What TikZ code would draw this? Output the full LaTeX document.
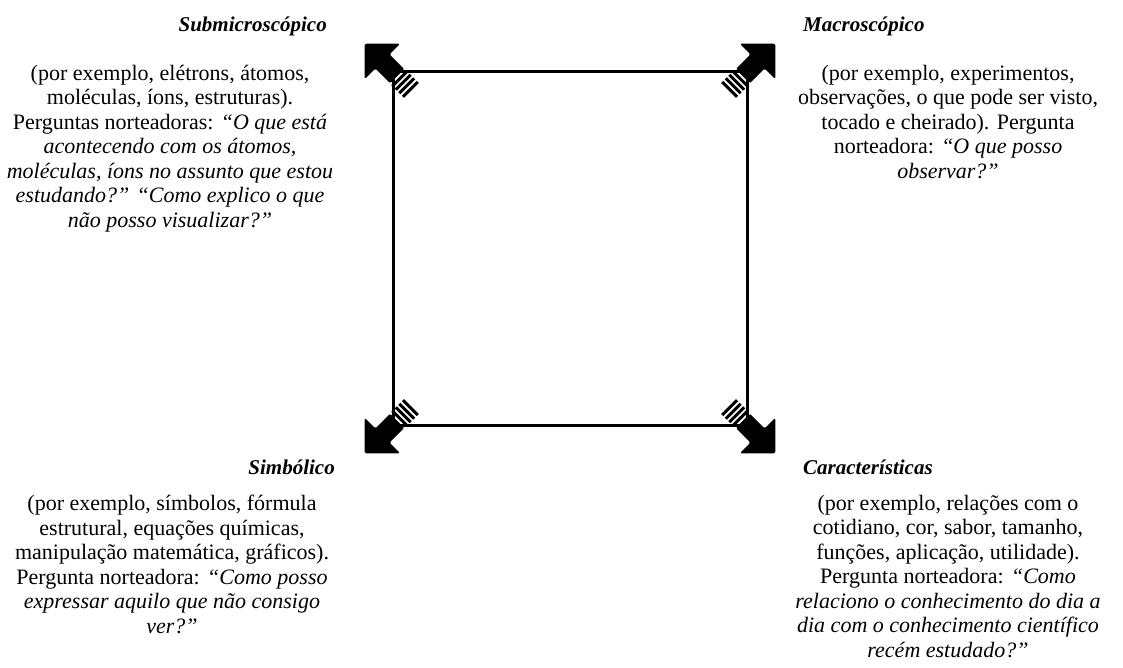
\documentclass[tikz,border=0pt]{standalone}
\usepackage{fontspec}
\setmainfont{Liberation Serif}

\newcommand{\cornerarrow}[2]{%
  \begin{scope}[shift={(#1)},rotate=#2]
    \fill[rounded corners=1.5pt] (-6,-10) -- (15,-10) -- (15,-25) -- (40,0) -- (15,25) -- (15,10) -- (-6,10) -- cycle;
    \foreach \u in {-9.5,-14.5,-19.5,-24.5}
      \fill (\u-1.5,-10.5) rectangle (\u+1.5,10.5);
  \end{scope}}

\begin{document}
\begin{tikzpicture}[x=1pt,y=-1pt,
  heading/.style={inner sep=0pt,font=\fontsize{21}{24.5}\selectfont\bfseries\itshape},
  levelnote/.style={inner sep=0pt,align=center,anchor=north,font=\fontsize{22}{24.5}\selectfont}]
\useasboundingbox (0,0) rectangle (1123,668);
\fill[white] (0,0) rectangle (1123,668);

% square
\coordinate (tl) at (393,72);
\coordinate (tr) at (747,72);
\coordinate (br) at (747,425);
\coordinate (bl) at (393,425);
\draw[line width=3pt] (tl) -- (tr) -- (br) -- (bl) -- cycle;

% corner arrows
\cornerarrow{tl}{135}
\cornerarrow{tr}{45}
\cornerarrow{bl}{225}
\cornerarrow{br}{315}

% headings
\node[heading,anchor=base east] (submicro) at (327,32) {Submicroscópico};
\node[heading,anchor=base west] (macro) at (803,32) {Macroscópico};
\node[heading,anchor=base east] (simbolico) at (335,474) {Simbólico};
\node[heading,anchor=base west] (caract) at (803,474) {Características};

% texts
\node[levelnote] (submicrotext) at (170,65) {(por exemplo, elétrons, átomos,\\
moléculas, íons, estruturas).\\
Perguntas norteadoras: \textit{“O que está}\\
\textit{acontecendo com os átomos,}\\
\textit{moléculas, íons no assunto que estou}\\
\textit{estudando?” “Como explico o que}\\
\textit{não posso visualizar?”}};
\node[levelnote] (macrotext) at (948,65) {(por exemplo, experimentos,\\
observações, o que pode ser visto,\\
tocado e cheirado). Pergunta\\
norteadora: \textit{“O que posso}\\
\textit{observar?”}};
\node[levelnote] (simbolicotext) at (172,495) {(por exemplo, símbolos, fórmula\\
estrutural, equações químicas,\\
manipulação matemática, gráficos).\\
Pergunta norteadora: \textit{“Como posso}\\
\textit{expressar aquilo que não consigo}\\
\textit{ver?”}};
\node[levelnote] (caracttext) at (948,495) {(por exemplo, relações com o\\
cotidiano, cor, sabor, tamanho,\\
funções, aplicação, utilidade).\\
Pergunta norteadora: \textit{“Como}\\
\textit{relaciono o conhecimento do dia a}\\
\textit{dia com o conhecimento científico}\\
\textit{recém estudado?”}};
\end{tikzpicture}
\end{document}
